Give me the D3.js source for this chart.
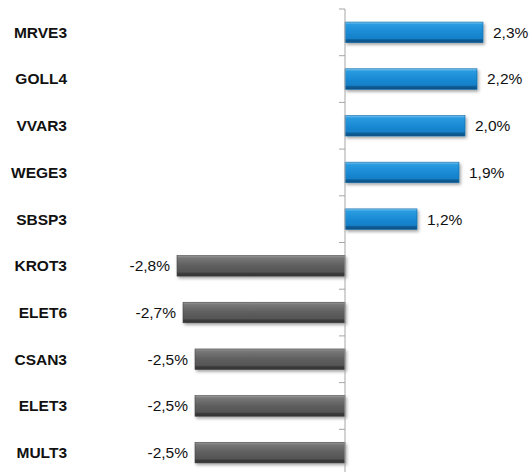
<!DOCTYPE html>
<html>
<head>
<meta charset="utf-8">
<script src="https://cdn.jsdelivr.net/npm/d3@7"></script>
<style>
  body { margin: 0; background: #fff; }
  .cat { font-family: "Liberation Sans Narrow", "Liberation Sans", Arial, sans-serif; font-weight: bold; font-size: 15.5px; fill: #111; }
  .val { font-family: "Liberation Sans Narrow", "Liberation Sans", Arial, sans-serif; font-size: 15.5px; fill: #111; }
</style>
</head>
<body>
<div id="chart"></div>
<script>
'use strict';

// Tickers and daily change (%)
const tickers = ['MRVE3', 'GOLL4', 'VVAR3', 'WEGE3', 'SBSP3', 'KROT3', 'ELET6', 'CSAN3', 'ELET3', 'MULT3'];
const changes = [2.3, 2.2, 2.0, 1.9, 1.2, -2.8, -2.7, -2.5, -2.5, -2.5];

const width = 529, height = 472;
const axisX = 345;

const data = tickers.map((t, i) => ({ ticker: t, value: changes[i] }));

const svg = d3.select('#chart').append('svg')
    .attr('width', width)
    .attr('height', height);

const defs = svg.append('defs');

// bevel-ish gradients
const gradBlue = defs.append('linearGradient').attr('id', 'gBlue').attr('x1', 0).attr('y1', 0).attr('x2', 0).attr('y2', 1);
[[0, '#7cc6f0'], [0.12, '#2a9be0'], [0.5, '#1a8ad4'], [0.8, '#1580c8'], [0.86, '#0d5f9a'], [1, '#0a4d80']]
    .forEach(([o, c]) => gradBlue.append('stop').attr('offset', o).attr('stop-color', c));

const gradGray = defs.append('linearGradient').attr('id', 'gGray').attr('x1', 0).attr('y1', 0).attr('x2', 0).attr('y2', 1);
[[0, '#9a9a9a'], [0.12, '#777'], [0.5, '#5e5e5e'], [0.8, '#555'], [0.86, '#3c3c3c'], [1, '#333']]
    .forEach(([o, c]) => gradGray.append('stop').attr('offset', o).attr('stop-color', c));

const shadow = defs.append('filter').attr('id', 'shadow')
    .attr('x', '-10%').attr('y', '-30%').attr('width', '130%').attr('height', '180%');
shadow.append('feDropShadow')
    .attr('dx', 1.5).attr('dy', 2).attr('stdDeviation', 1.5)
    .attr('flood-color', '#000').attr('flood-opacity', 0.35);

// scales
const scaleX = d3.scaleLinear()
    .domain([-3, 3])
    .range([axisX - 180, axisX + 180]);

const scaleY = d3.scaleBand()
    .domain(tickers)
    .range([9, 9 + 46.7 * tickers.length])
    .paddingInner(0.56)
    .paddingOuter(0.28);

// comma decimal, plain hyphen for negatives
const fmt = d => (d < 0 ? '-' : '') + Math.abs(d).toFixed(1).replace('.', ',') + '%';

// bars
svg.append('g').selectAll('rect.bar')
    .data(data)
    .join('rect')
    .classed('bar', true)
    .attr('x', d => Math.min(scaleX(d.value), scaleX(0)))
    .attr('y', d => scaleY(d.ticker))
    .attr('width', d => Math.abs(scaleX(d.value) - scaleX(0)))
    .attr('height', scaleY.bandwidth())
    .attr('fill', d => d.value >= 0 ? 'url(#gBlue)' : 'url(#gGray)')
    .attr('stroke', d => d.value >= 0 ? '#0e6aa8' : '#444')
    .attr('stroke-width', 0.6)
    .attr('filter', 'url(#shadow)');

// vertical axis with ticks at band edges
const axis = svg.append('g');
axis.append('line')
    .attr('x1', axisX).attr('x2', axisX)
    .attr('y1', scaleY.range()[0]).attr('y2', height)
    .attr('stroke', '#a6a6a6');

const edges = tickers.map(t => scaleY(t) - scaleY.step() * scaleY.paddingInner() / 2);
axis.selectAll('line.tick')
    .data(edges)
    .join('line')
    .classed('tick', true)
    .attr('x1', axisX - 6).attr('x2', axisX)
    .attr('y1', d => d).attr('y2', d => d)
    .attr('stroke', '#a6a6a6');

// category labels
svg.append('g').selectAll('text.cat')
    .data(data)
    .join('text')
    .classed('cat', true)
    .attr('x', 67)
    .attr('y', d => scaleY(d.ticker) + scaleY.bandwidth() / 2)
    .attr('dy', '0.35em')
    .attr('text-anchor', 'end')
    .text(d => d.ticker);

// value labels
svg.append('g').selectAll('text.val')
    .data(data)
    .join('text')
    .classed('val', true)
    .attr('x', d => d.value >= 0 ? scaleX(d.value) + 10 : scaleX(d.value) - 7)
    .attr('y', d => scaleY(d.ticker) + scaleY.bandwidth() / 2)
    .attr('dy', '0.35em')
    .attr('text-anchor', d => d.value >= 0 ? 'start' : 'end')
    .text(d => fmt(d.value));
</script>
</body>
</html>
